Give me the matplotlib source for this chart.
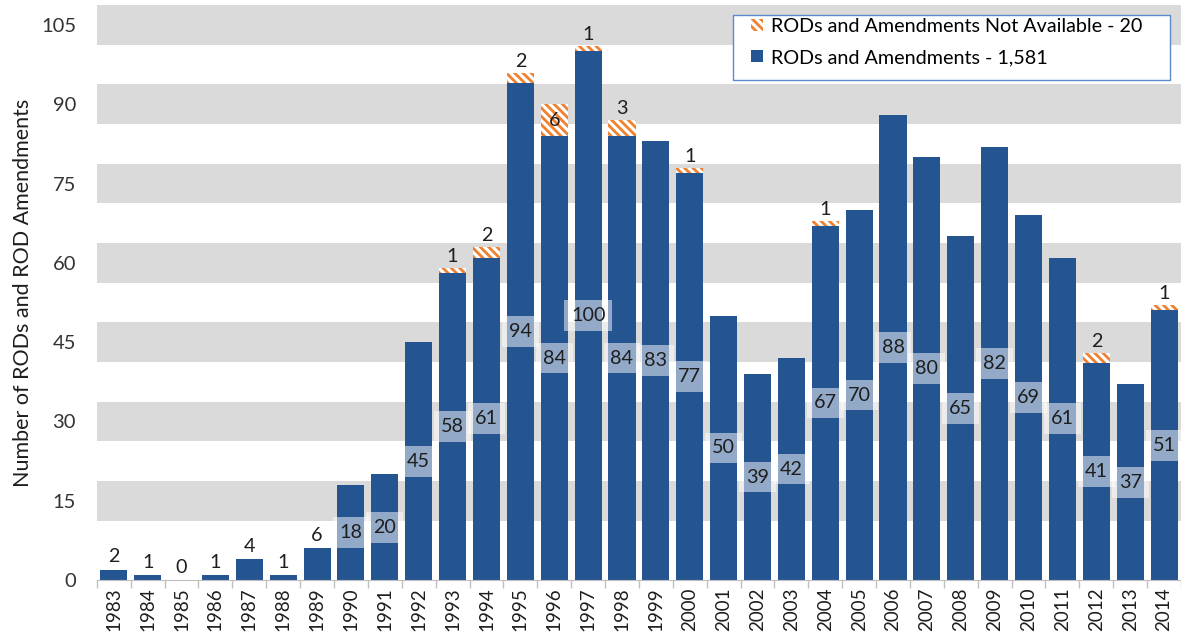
import matplotlib
matplotlib.use("Agg")
import matplotlib.pyplot as plt
from matplotlib.patches import Patch, Rectangle
import numpy as np

years = list(range(1983, 2015))
rods = [2, 1, 0, 1, 4, 1, 6, 18, 20, 45, 58, 61, 94, 84, 100, 84, 83, 77, 50, 39,
        42, 67, 70, 88, 80, 65, 82, 69, 61, 41, 37, 51]
not_avail = [0, 0, 0, 0, 0, 0, 0, 0, 0, 0, 1, 2, 2, 6, 1, 3, 0, 1, 0, 0,
             0, 1, 0, 0, 0, 0, 0, 0, 0, 2, 0, 1]
yticks = [0, 15, 30, 45, 60, 75, 90, 105]
legend_labels = ["RODs and Amendments Not Available - 20", "RODs and Amendments - 1,581"]
ylabel = "Number of RODs and ROD Amendments"

BLUE = "#255591"
ORANGE = "#f0802e"
TXT = "#1e1e1e"

plt.rcParams['font.family'] = ['Lato', 'DejaVu Sans']
plt.rcParams['hatch.linewidth'] = 2.0
plt.rcParams['hatch.color'] = ORANGE

fig = plt.figure(figsize=(11.81, 6.41), dpi=100)
ax = fig.add_axes([0.082, 0.095, 0.918, 0.897])

x = np.arange(len(years))
ax.set_xlim(-0.47, len(years) - 0.6)
ax.set_ylim(0, 108.75)

for v in yticks[1:]:
    ax.axhspan(v - 3.75, v + 3.75, color="#dadada", zorder=0, lw=0)

ax.bar(x, rods, width=0.8, color=BLUE, zorder=2, lw=0)
ax.bar(x, not_avail, bottom=rods, width=0.8, facecolor="white", edgecolor=ORANGE,
       hatch="\\\\\\\\", lw=0, zorder=2)

FS = 14.2
for xi, r, n in zip(x, rods, not_avail):
    if r >= 15:
        ax.text(xi, r / 2, str(r), ha="center", va="center", fontsize=FS, color=TXT,
                zorder=4, bbox=dict(boxstyle="square,pad=0.35", fc="white", ec="none", alpha=0.5))
    else:
        ax.annotate(str(r), (xi, r), xytext=(0, 3), textcoords="offset points",
                    ha="center", va="bottom", fontsize=FS, color=TXT)
    if n > 0:
        if n >= 4:
            ax.text(xi, r + n / 2, str(n), ha="center", va="center", fontsize=FS,
                    color=TXT, zorder=4)
        else:
            ax.annotate(str(n), (xi, r + n), xytext=(0, 2), textcoords="offset points",
                        ha="center", va="bottom", fontsize=FS, color=TXT)

ax.set_yticks(yticks)
ax.set_yticklabels([str(v) for v in yticks], fontsize=14.5, color="#333333")
ax.tick_params(axis="y", length=0, pad=15)
ax.set_xticks(x)
ax.set_xticklabels([str(y) for y in years], rotation=90, fontsize=13.5, color=TXT)
ax.set_xticks(np.arange(-0.5, len(years), 1), minor=True)
ax.tick_params(axis="x", which="major", length=0, pad=5)
ax.tick_params(axis="x", which="minor", length=6, color="#bfbfbf", width=1)
for s in ["top", "right", "left"]:
    ax.spines[s].set_visible(False)
ax.spines["bottom"].set_color("#bfbfbf")
ax.set_ylabel(ylabel, fontsize=15.5, color=TXT, labelpad=6)

# legend frame
fig.patches.append(Rectangle((0.6207, 0.875), 0.370, 0.1016, transform=fig.transFigure,
                             facecolor="white", edgecolor="#5b8bc9", lw=1.0, zorder=5))

handles = [Patch(facecolor="white", edgecolor=ORANGE, hatch="\\\\\\\\", lw=0),
           Patch(facecolor=BLUE, lw=0)]
leg = fig.legend(handles, legend_labels, loc="upper left", bbox_to_anchor=(0.636, 0.972),
                 fontsize=14.2, frameon=False, handlelength=0.6,
                 handleheight=0.6, handletextpad=0.4, borderpad=0.0, labelspacing=0.72,
                 borderaxespad=0)
leg.set_zorder(6)

fig.savefig("out.png", dpi=100)
